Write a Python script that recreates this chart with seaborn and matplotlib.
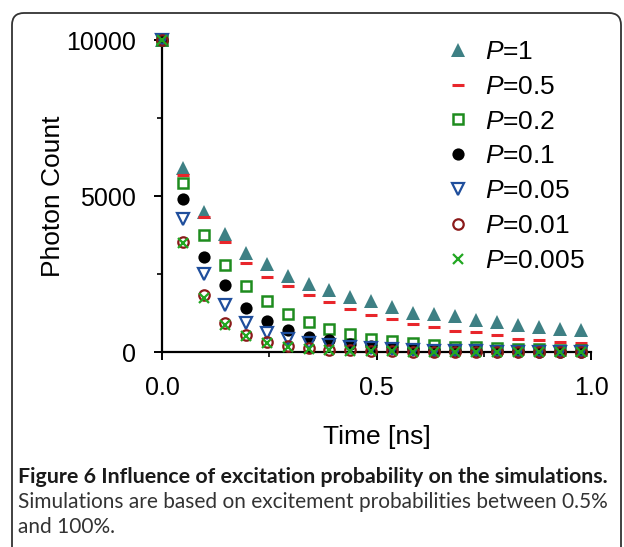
import numpy as np
import pandas as pd
import matplotlib
matplotlib.use("Agg")
import matplotlib.pyplot as plt
import seaborn as sns
from matplotlib.patches import FancyBboxPatch
from matplotlib.ticker import MultipleLocator

# ---------------- data ----------------
time_ns = [0.0, 0.0488, 0.0976, 0.1464, 0.1952, 0.244, 0.2928, 0.3416, 0.3904, 0.4392,
           0.488, 0.5368, 0.5856, 0.6344, 0.6832, 0.732, 0.7808, 0.8296, 0.8784, 0.9272, 0.976]
p_1 = [10000, 5890, 4480, 3780, 3180, 2810, 2450, 2170, 1990, 1770,
       1645, 1430, 1265, 1208, 1160, 1030, 952, 865, 791, 737, 705]
p_05 = [10000, 5673, 4338, 3515, 2842, 2415, 2115, 1827, 1613, 1378,
        1186, 1047, 890, 791, 680, 640, 545, 430, 400, 331, 299]
p_02 = [10000, 5430, 3740, 2790, 2120, 1645, 1218, 960, 737, 590,
        425, 363, 290, 215, 171, 150, 118, 100, 85, 75, 64]
p_01 = [10000, 4915, 3034, 2147, 1425, 990, 720, 480, 375, 265,
        198, 130, 90, 65, 45, 35, 25, 20, 15, 10, 8]
p_005 = [10000, 4270, 2510, 1515, 930, 608, 410, 290, 235, 171,
         128, 90, 60, 40, 30, 20, 15, 10, 8, 5, 3]
p_001 = [10000, 3530, 1815, 930, 555, 315, 198, 118, 70, 50,
         32, 20, 12, 8, 5, 3, 2, 1, 1, 0, 0]
p_0005 = [10000, 3480, 1720, 865, 513, 278, 171, 110, 60, 45,
          28, 18, 10, 6, 4, 3, 2, 1, 1, 0, 0]

series_labels = ["$P$=1", "$P$=0.5", "$P$=0.2", "$P$=0.1", "$P$=0.05", "$P$=0.01", "$P$=0.005"]
series_values = [p_1, p_05, p_02, p_01, p_005, p_001, p_0005]

x_ticks = [0.0, 0.5, 1.0]
x_ticklabels = ["0.0", "0.5", "1.0"]
y_ticks = [0, 5000, 10000]
y_ticklabels = ["0", "5000", "10000"]

# ---------------- styles ----------------
styles = [
    dict(marker="^", color="#3E8084", markersize=9.8, markeredgewidth=0),
    dict(marker="_", color="#E8262B", markersize=8.5, markeredgewidth=2.2),
    dict(marker="s", color="#1E8C1E", markersize=7.0, markeredgewidth=1.8, markerfacecolor="none"),
    dict(marker="o", color="#000000", markersize=8.8, markeredgewidth=0),
    dict(marker="v", color="#1F4E9C", markersize=8.5, markeredgewidth=1.6, markerfacecolor="none"),
    dict(marker="o", color="#8B1A1A", markersize=7.5, markeredgewidth=1.6, markerfacecolor="none"),
    dict(marker="x", color="#22A722", markersize=7.0, markeredgewidth=1.6),
]

sns.set_style("ticks")
plt.rcParams["font.family"] = ["Liberation Sans", "DejaVu Sans"]
plt.rcParams["mathtext.fontset"] = "custom"
plt.rcParams["mathtext.rm"] = "Liberation Sans"
plt.rcParams["mathtext.it"] = "Liberation Sans:italic"
plt.rcParams["text.color"] = "black"
plt.rcParams["axes.labelcolor"] = "black"
plt.rcParams["xtick.color"] = "black"
plt.rcParams["ytick.color"] = "black"

W, H = 624, 547
fig = plt.figure(figsize=(W / 100, H / 100), dpi=100)
ax = fig.add_axes([162 / W, 1 - 352 / H, (591 - 162) / W, (352 - 40) / H])

for lab, vals, st in zip(series_labels, series_values, styles):
    df = pd.DataFrame({"t": time_ns, "v": vals})
    sns.lineplot(data=df, x="t", y="v", ax=ax, linestyle="", label=lab,
                 clip_on=False, zorder=3, markeredgecolor=st["color"], **st)

ax.set_xlim(0, 1.0)
ax.set_ylim(0, 10000)
ax.set_xticks(x_ticks)
ax.set_xticklabels(x_ticklabels)
ax.set_yticks(y_ticks)
ax.set_yticklabels(y_ticklabels)
ax.xaxis.set_minor_locator(MultipleLocator(0.25))
ax.yaxis.set_minor_locator(MultipleLocator(2500))
for s in ["top", "right"]:
    ax.spines[s].set_visible(False)
for s in ["left", "bottom"]:
    ax.spines[s].set_linewidth(1.6)
    ax.spines[s].set_color("black")
ax.tick_params(axis="both", which="major", length=5.5, width=1.4, direction="out",
               labelsize=18, colors="black")
ax.tick_params(axis="both", which="minor", length=3.5, width=1.2, direction="out")
ax.tick_params(axis="x", which="major", pad=12)
ax.tick_params(axis="y", which="major", pad=13)

ax.set_xlabel("Time [ns]", fontsize=19, color="black")
ax.set_ylabel("Photon Count", fontsize=19, color="black")
ax.xaxis.set_label_coords(0.5, -0.235)
ax.yaxis.set_label_coords(-0.226, 0.5)

leg = ax.legend(loc="upper left", bbox_to_anchor=(445 / W, 1 - 40 / H),
                bbox_transform=fig.transFigure, frameon=False, fontsize=19,
                handlelength=1.0, handletextpad=0.5, labelspacing=0.41,
                borderaxespad=0, borderpad=0)
for txt in leg.get_texts():
    txt.set_color("black")

# caption
cap_font = ["Lato", "DejaVu Sans"]
t1 = fig.text(18 / W, 1 - 477 / H, "Figure 6 Influence of excitation probability on the simulations.",
              fontsize=14, fontweight="bold", family=cap_font, color="#1a1a1a", va="center", ha="left")
t2 = fig.text(18 / W, 1 - 502 / H, "Simulations are based on excitement probabilities between 0.5%",
              fontsize=14, family=cap_font, color="#333333", va="center", ha="left")
t3 = fig.text(18 / W, 1 - 527 / H, "and 100%.",
              fontsize=14, family=cap_font, color="#333333", va="center", ha="left")
fig.canvas.draw()
r = fig.canvas.get_renderer()
for t, target in [(t1, 594), (t2, 594)]:
    w = t.get_window_extent(r).width
    t.set_fontsize(14 * target / w)
t3.set_fontsize(t2.get_fontsize())

# rounded panel border
box = FancyBboxPatch((0.12, -0.3), 6.09, 5.64, boxstyle="round,pad=0,rounding_size=0.12",
                     transform=fig.dpi_scale_trans, facecolor="none", edgecolor="#333333",
                     linewidth=1.3)
fig.add_artist(box)

fig.savefig("out.png", dpi=100)
